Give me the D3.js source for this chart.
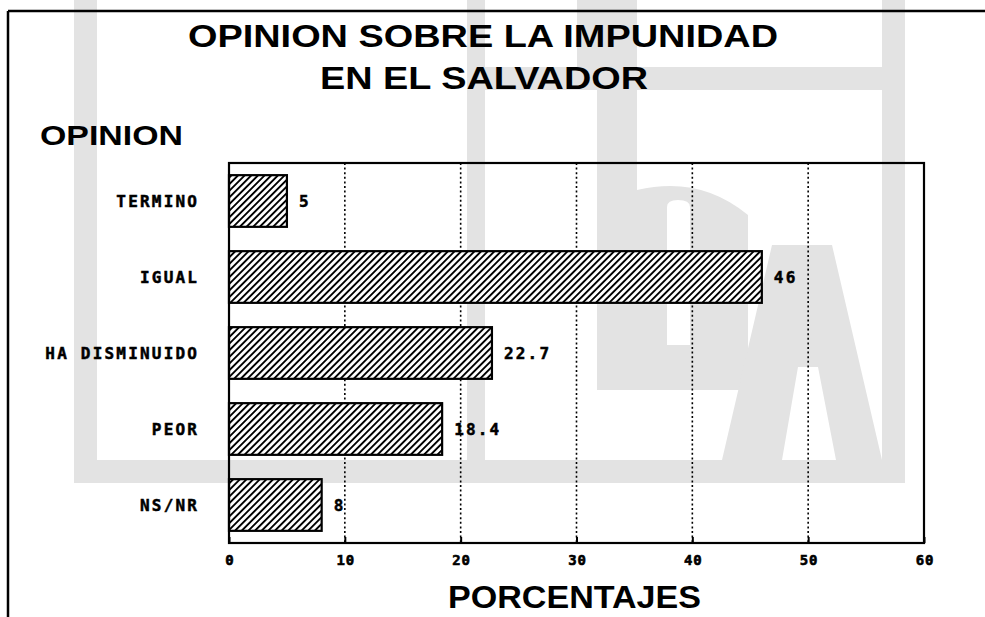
<!DOCTYPE html>
<html>
<head>
<meta charset="utf-8">
<script src="https://cdn.jsdelivr.net/npm/d3@7"></script>
<style>
  html, body { margin: 0; padding: 0; background: #ffffff; }
  svg { display: block; }
</style>
</head>
<body>
<script>
// ---- data ----
const categories = ["TERMINO", "IGUAL", "HA DISMINUIDO", "PEOR", "NS/NR"];
const values = [5, 46, 22.7, 18.4, 8];
const valueLabels = ["5", "46", "22.7", "18.4", "8"];
const tickValues = [0, 10, 20, 30, 40, 50, 60];
const titleLines = ["OPINION SOBRE LA IMPUNIDAD", "EN EL SALVADOR"];
const yTitle = "OPINION";
const xTitle = "PORCENTAJES";

const W = 985, H = 617;
const svg = d3.select("body").append("svg").attr("width", W).attr("height", H);

// ---- watermark (faint logo in background) ----
const wm = svg.append("g").attr("fill", "#e3e3e3");
wm.append("rect").attr("x", 74).attr("y", 0).attr("width", 23).attr("height", 483);
wm.append("rect").attr("x", 74).attr("y", 460).attr("width", 831).attr("height", 23);
wm.append("rect").attr("x", 467).attr("y", 0).attr("width", 18).attr("height", 483);
wm.append("rect").attr("x", 485).attr("y", 67).attr("width", 400).attr("height", 23);
wm.append("rect").attr("x", 577).attr("y", 0).attr("width", 60).attr("height", 67);
wm.append("rect").attr("x", 882).attr("y", 0).attr("width", 23).attr("height", 483);
wm.append("path")
  .attr("d", "M597,90 L637,90 L637,190 Q700,175 748,215 L748,390 L597,390 Z M667,207 Q667,200 678,200 Q690,200 690,207 L690,345 L667,345 Z")
  .attr("fill-rule", "evenodd");
wm.append("path")
  .attr("d", "M722,460 L772,245 L832,245 L882,460 Z M782,460 L798,367 L818,367 L836,460 Z")
  .attr("fill-rule", "evenodd");

// ---- scales ----
const x = d3.scaleLinear().domain([0, 60]).range([229, 924]);
const y = d3.scaleBand().domain(categories).range([163, 543]).paddingInner(0.32).paddingOuter(0.16);

// ---- hatch pattern ----
const defs = svg.append("defs");
const pat = defs.append("pattern").attr("id", "hatch").attr("patternUnits", "userSpaceOnUse")
  .attr("width", 4.7).attr("height", 10).attr("patternTransform", "rotate(45)");
pat.append("rect").attr("width", 4.7).attr("height", 10).attr("fill", "#ffffff");
pat.append("rect").attr("x", 0).attr("width", 1.9).attr("height", 10).attr("fill", "#000000");

// ---- outer frame lines ----
svg.append("line").attr("x1", 8).attr("y1", 11).attr("x2", W).attr("y2", 11)
  .attr("stroke", "#000").attr("stroke-width", 2.5);
svg.append("line").attr("x1", 8).attr("y1", 11).attr("x2", 8).attr("y2", H)
  .attr("stroke", "#000").attr("stroke-width", 2.5);

// ---- grid lines ----
svg.append("g").selectAll("line").data(tickValues.filter(d => d > 0 && d < 60)).join("line")
  .attr("x1", d => x(d)).attr("x2", d => x(d)).attr("y1", 163).attr("y2", 543)
  .attr("stroke", "#000").attr("stroke-width", 1.6).attr("stroke-dasharray", "2,2.6");

// ---- bars ----
svg.append("g").selectAll("rect").data(categories).join("rect")
  .attr("x", x(0)).attr("y", d => y(d))
  .attr("width", (d, i) => x(values[i]) - x(0))
  .attr("height", y.bandwidth())
  .attr("fill", "url(#hatch)").attr("stroke", "#000").attr("stroke-width", 2.2);

// ---- plot frame ----
svg.append("rect").attr("x", x(0)).attr("y", 163).attr("width", x(60) - x(0)).attr("height", 380)
  .attr("fill", "none").attr("stroke", "#000").attr("stroke-width", 2.2);

const mono = "'DejaVu Sans Mono', monospace";

// ---- value labels ----
svg.append("g").selectAll("text").data(categories).join("text")
  .attr("x", (d, i) => x(values[i]) + 12)
  .attr("y", d => y(d) + y.bandwidth() / 2)
  .attr("dy", "0.36em")
  .attr("font-family", mono).attr("font-weight", "bold")
  .attr("font-size", 16).attr("letter-spacing", 2.2)
  .attr("fill", "#000").attr("stroke", "#000").attr("stroke-width", 0.5)
  .text((d, i) => valueLabels[i]);

// ---- category labels ----
svg.append("g").selectAll("text").data(categories).join("text")
  .attr("x", 199.2)
  .attr("y", d => y(d) + y.bandwidth() / 2)
  .attr("dy", "0.36em").attr("text-anchor", "end")
  .attr("font-family", mono).attr("font-weight", "bold")
  .attr("font-size", 16).attr("letter-spacing", 2.2)
  .attr("fill", "#000").attr("stroke", "#000").attr("stroke-width", 0.5)
  .text(d => d);

// ---- x axis ----
const xAxis = d3.axisBottom(x).tickValues(tickValues).tickSizeInner(-6).tickSizeOuter(0)
  .tickPadding(12).tickFormat(d3.format("d"));
const gx = svg.append("g").attr("transform", "translate(0,543)").call(xAxis);
gx.select(".domain").remove();
gx.selectAll(".tick line").attr("stroke", "#000").attr("stroke-width", 2);
gx.selectAll(".tick text")
  .attr("font-family", mono).attr("font-weight", "bold")
  .attr("font-size", 14).attr("letter-spacing", 0.8).attr("dx", 0.4)
  .attr("fill", "#000").attr("stroke", "#000").attr("stroke-width", 0.6);

// ---- titles ----
const sans = "'Liberation Sans', Arial, sans-serif";
svg.append("text").attr("x", 188).attr("y", 47)
  .attr("font-family", sans).attr("font-weight", "bold").attr("font-size", 31)
  .attr("textLength", 590).attr("lengthAdjust", "spacingAndGlyphs").text(titleLines[0]);
svg.append("text").attr("x", 320).attr("y", 89)
  .attr("font-family", sans).attr("font-weight", "bold").attr("font-size", 31)
  .attr("textLength", 328).attr("lengthAdjust", "spacingAndGlyphs").text(titleLines[1]);
svg.append("text").attr("x", 40).attr("y", 145)
  .attr("font-family", sans).attr("font-weight", "bold").attr("font-size", 28)
  .attr("textLength", 143).attr("lengthAdjust", "spacingAndGlyphs").text(yTitle);
svg.append("text").attr("x", 448).attr("y", 608)
  .attr("font-family", sans).attr("font-weight", "bold").attr("font-size", 32)
  .attr("textLength", 253).attr("lengthAdjust", "spacingAndGlyphs").text(xTitle);
</script>
</body>
</html>
